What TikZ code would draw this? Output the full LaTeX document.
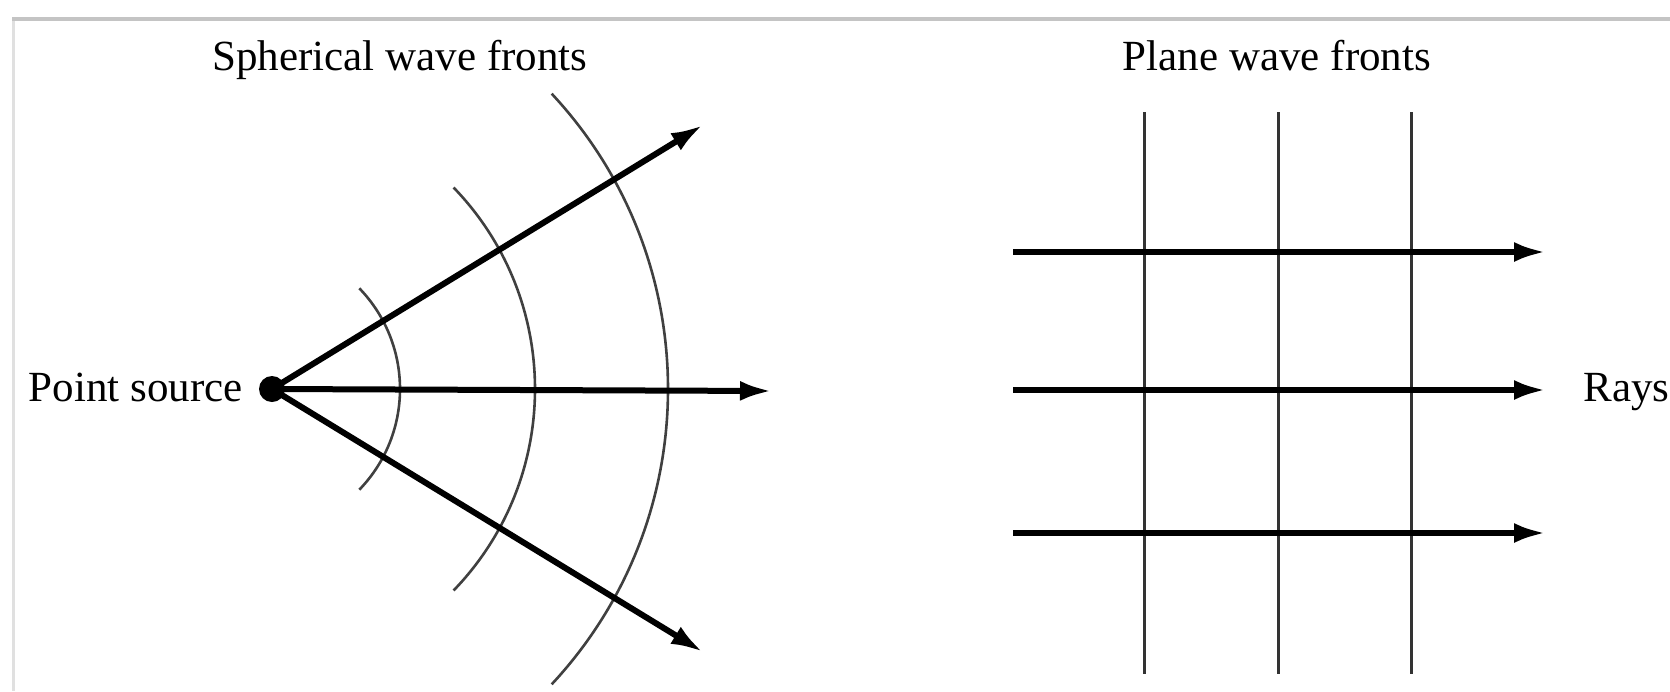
\documentclass[tikz,border=0pt]{standalone}
\usepackage{fontspec}
\setmainfont{Liberation Serif}
\usetikzlibrary{arrows.meta}
\begin{document}
\begin{tikzpicture}[x=0.5pt,y=-0.5pt,
  lbl/.style={inner sep=0pt,font=\fontsize{21.5}{24}\selectfont},
  ray/.style={line width=3pt,-{Latex[length=16pt,width=10pt]}},
  front/.style={line width=1.3pt,black!75},
  plane/.style={line width=1.5pt,black!80},
  frameline/.style={line cap=butt}]
\useasboundingbox (0,0) rectangle (1670,691);
% frame
\draw[frameline,line width=2pt,black!23] (12,19) -- (1670,19);
\draw[frameline,line width=1.5pt,black!12] (13.5,21) -- (13.5,691);
% titles
\node[lbl,anchor=base] (tsph) at (400,70) {Spherical wave fronts};
\node[lbl,anchor=base] (tpl) at (1277,70) {Plane wave fronts};
% point source
\node[circle,fill=black,inner sep=0pt,minimum size=13pt] (src) at (272,389) {};
\node[lbl,anchor=base east] (tsrc) at (243,401) {Point source};
% ray ends
\coordinate (e1) at (703,125);
\coordinate (e2) at (772,391);
\coordinate (e3) at (703,652);
% arc centres
\coordinate (c1) at (255,389);
\coordinate (c2) at (245,389);
\coordinate (c3) at (235,389);
\draw[front] (c1) ++(-44:145) arc[start angle=-44,end angle=44,radius=145];
\draw[front] (c2) ++(-44:290) arc[start angle=-44,end angle=44,radius=290];
\draw[front] (c3) ++(-43:433) arc[start angle=-43,end angle=43,radius=433];
\draw[ray] (src.center) -- (e1);
\draw[ray] (src.center) -- (e2);
\draw[ray] (src.center) -- (e3);
% plane waves
\coordinate (v1t) at (1144,112); \coordinate (v1b) at (1144,674);
\coordinate (v2t) at (1278,112); \coordinate (v2b) at (1278,674);
\coordinate (v3t) at (1411,112); \coordinate (v3b) at (1411,674);
\draw[plane] (v1t) -- (v1b);
\draw[plane] (v2t) -- (v2b);
\draw[plane] (v3t) -- (v3b);
\coordinate (h1s) at (1013,252); \coordinate (h1e) at (1546,252);
\coordinate (h2s) at (1013,390); \coordinate (h2e) at (1546,390);
\coordinate (h3s) at (1013,533); \coordinate (h3e) at (1546,533);
\draw[ray] (h1s) -- (h1e);
\draw[ray] (h2s) -- (h2e);
\draw[ray] (h3s) -- (h3e);
\node[lbl,anchor=base west] (trays) at (1583,401) {Rays};
\end{tikzpicture}
\end{document}
